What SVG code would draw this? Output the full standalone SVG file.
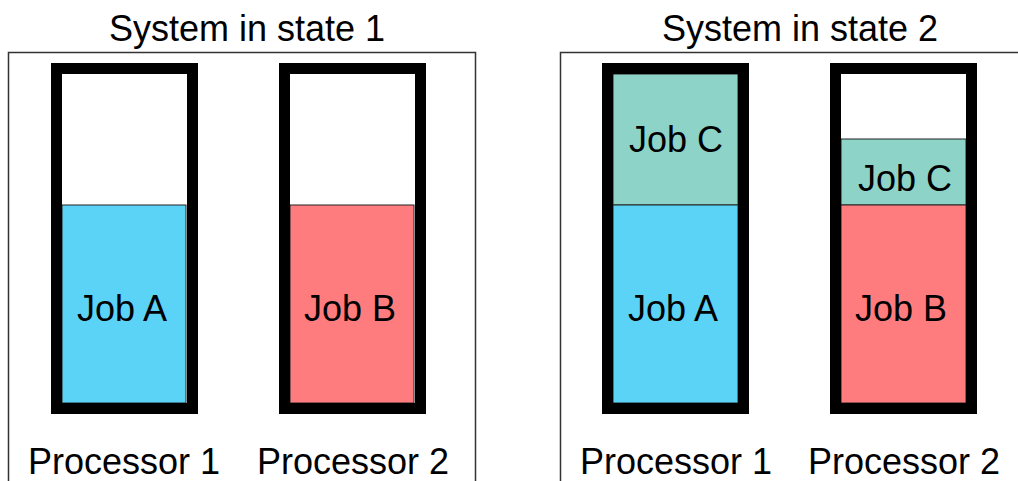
<svg xmlns="http://www.w3.org/2000/svg" width="1018" height="481" viewBox="0 0 1018 481">
<style>
text{font-family:"Liberation Sans",Arial,sans-serif;fill:#000;text-anchor:middle}
.title{font-size:36px}
.lbl{font-size:36px}
.frame{fill:none;stroke:#333;stroke-width:1.5}
.proc{fill:none;stroke:#000;stroke-width:11}
.seg{stroke:#222;stroke-width:1}
.a{fill:#5BD3F6}
.b{fill:#FF7C7E}
.c{fill:#8DD3C7}
</style>
<rect width="1018" height="481" fill="#fff"/>
<g id="state1">
<path class="frame" d="M8.5,481V52.5H475.5V481"/>
<text class="title" x="247" y="41">System in state 1</text>
<g id="s1-proc1">
<rect class="a seg" x="62" y="205" width="124" height="198"/>
<rect class="proc" x="56.5" y="68.5" width="136" height="340"/>
<text class="lbl" x="122" y="321">Job A</text>
<text class="lbl" x="124" y="474">Processor 1</text>
</g>
<g id="s1-proc2">
<rect class="b seg" x="290" y="205" width="124" height="198"/>
<rect class="proc" x="284.5" y="68.5" width="136" height="340"/>
<text class="lbl" x="350" y="321">Job B</text>
<text class="lbl" x="353" y="474">Processor 2</text>
</g>
</g>
<g id="state2">
<path class="frame" d="M560.5,481V52.5H1018"/>
<text class="title" x="800" y="41">System in state 2</text>
<g id="s2-proc1">
<rect class="c seg" x="613" y="74" width="125" height="131"/>
<rect class="a seg" x="613" y="205" width="125" height="198"/>
<rect class="proc" x="607.5" y="68.5" width="136" height="340"/>
<text class="lbl" x="676" y="152">Job C</text>
<text class="lbl" x="673" y="321">Job A</text>
<text class="lbl" x="676" y="474">Processor 1</text>
</g>
<g id="s2-proc2">
<rect class="c seg" x="841" y="139" width="125" height="66"/>
<rect class="b seg" x="841" y="205" width="125" height="198"/>
<rect class="proc" x="835.5" y="68.5" width="136" height="340"/>
<text class="lbl" x="905" y="191">Job C</text>
<text class="lbl" x="901" y="321">Job B</text>
<text class="lbl" x="904" y="474">Processor 2</text>
</g>
</g>
</svg>
